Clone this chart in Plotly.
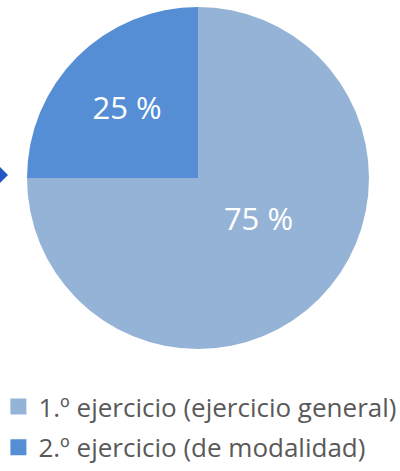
import plotly.graph_objects as go

labels = ["1.º ejercicio (ejercicio general)", "2.º ejercicio (de modalidad)"]
values = [75, 25]
colors = ["#95B3D7", "#558ED5"]
label_templates = ["%{value} %<br> ", "%{value} %"]

W, H = 400, 471
cx, cy, r = 198, 178, 171

fig = go.Figure()
fig.add_trace(go.Pie(
    labels=labels, values=values, sort=False, direction="clockwise", rotation=0,
    marker=dict(colors=colors, line=dict(width=0)),
    texttemplate=label_templates, textposition="inside", insidetextorientation="horizontal",
    textfont=dict(family="Open Sans", size=31, color="white"),
    showlegend=False, hoverinfo="none",
    domain=dict(x=[(cx - r) / W, (cx + r) / W], y=[1 - (cy + r) / H, 1 - (cy - r) / H]),
))
for lab, col in zip(labels, colors):
    fig.add_trace(go.Scatter(
        x=[None], y=[None], mode="markers", name=lab, legendgroup=lab,
        marker=dict(symbol="square", size=16, color=col),
    ))

fig.add_shape(type="path", xref="paper", yref="paper",
              path=f"M 0 {1-167/H} L {8/W} {1-175/H} L 0 {1-183/H} Z",
              fillcolor="#2457C5", line=dict(width=0))

fig.update_layout(
    width=W, height=H, margin=dict(l=0, r=0, t=0, b=0, autoexpand=False),
    paper_bgcolor="white", plot_bgcolor="white",
    xaxis=dict(visible=False), yaxis=dict(visible=False),
    legend=dict(x=-0.004, y=1 - 383 / H, xanchor="left", yanchor="top",
                font=dict(family="Open Sans", size=26, color="#595959"),
                tracegroupgap=4, bgcolor="rgba(0,0,0,0)"),
)
fig.write_html("out.html", config={"displayModeBar": False},
               post_script="document.body.style.margin='0';")
